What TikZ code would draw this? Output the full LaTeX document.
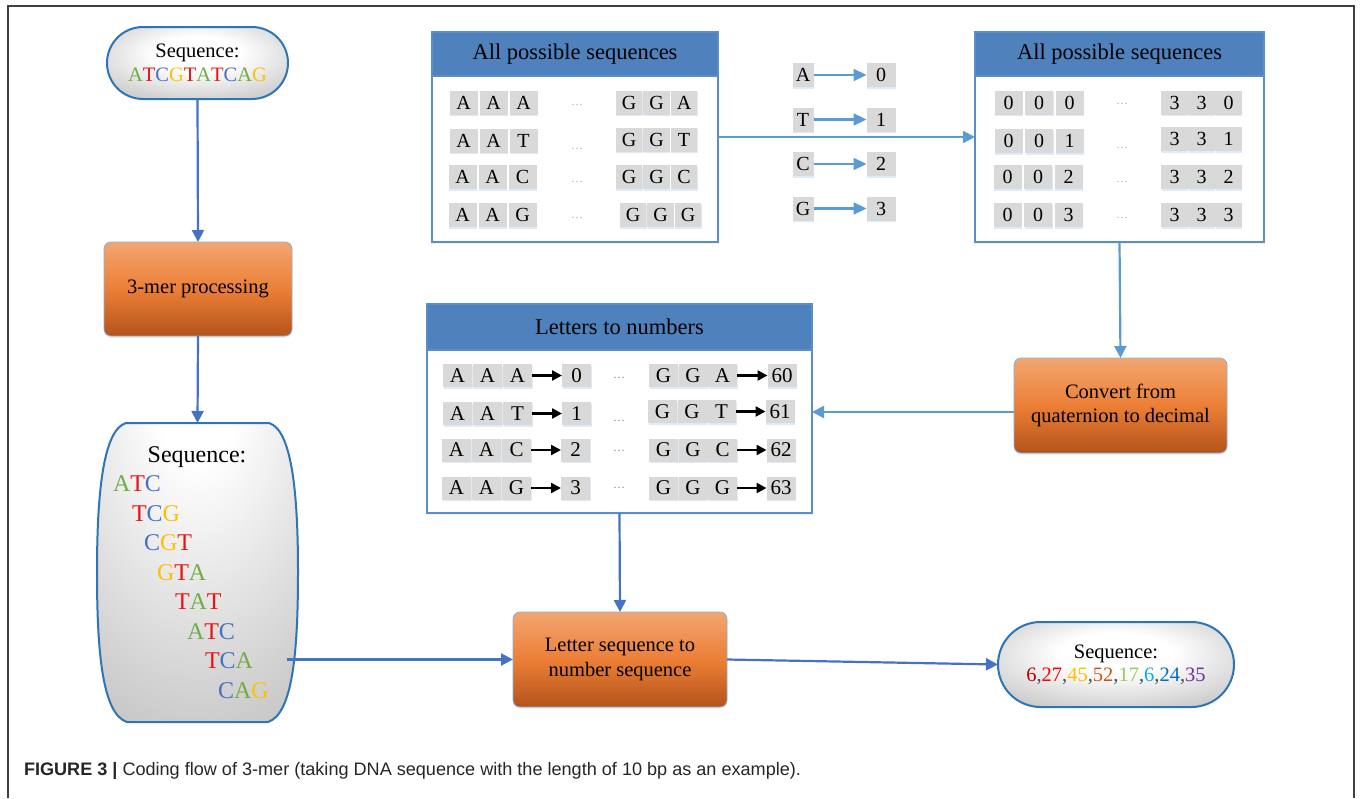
\documentclass[tikz,border=0pt]{standalone}
\usepackage{fontspec}
\usepackage{graphicx}
\setmainfont{Liberation Serif}
\newfontfamily\capfont{Liberation Sans}
\usetikzlibrary{arrows.meta,calc,shadows}

\definecolor{hdr}{HTML}{4F81BD}
\definecolor{bord}{HTML}{5B8DC8}
\definecolor{flow}{HTML}{4472C4}
\definecolor{flowl}{HTML}{5B9BD5}
\definecolor{cellg}{HTML}{D9D9D9}
\definecolor{stad}{HTML}{2E75B6}
\definecolor{orT}{HTML}{F2A672}
\definecolor{orM}{HTML}{EC7F36}
\definecolor{orB}{HTML}{B4531A}
\definecolor{ntA}{HTML}{70AD47}
\definecolor{ntT}{HTML}{EE1111}
\definecolor{ntC}{HTML}{4472C4}
\definecolor{ntG}{HTML}{FFC000}
\definecolor{nuA}{HTML}{C00000}
\definecolor{nuB}{HTML}{FF0000}
\definecolor{nuC}{HTML}{FFC000}
\definecolor{nuD}{HTML}{C55A11}
\definecolor{nuE}{HTML}{92D050}
\definecolor{nuF}{HTML}{00B0F0}
\definecolor{nuG}{HTML}{0070C0}
\definecolor{nuH}{HTML}{7030A0}

\newcommand\nucA{{\color{ntA}A}}
\newcommand\nucT{{\color{ntT}T}}
\newcommand\nucC{{\color{ntC}C}}
\newcommand\nucG{{\color{ntG}G}}
\newcommand\cm{{\color{black!70},}}

\pgfdeclareradialshading{softrad}{\pgfpoint{0bp}{8bp}}{color(0bp)=(white); color(12bp)=(white); color(48bp)=(gray!68); color(80bp)=(gray!75)}
\pgfdeclareradialshading{tallrad}{\pgfpoint{0bp}{32bp}}{color(0bp)=(white); color(10bp)=(white); color(75bp)=(gray!78); color(100bp)=(gray!85)}

\newcommand\cellrow[6]{%
  \foreach \cellsym [count=\k] in {#6} {
    \node[#5] (#1\k) at ({#2+(\k-1)*#4},#3) {\cellsym};
  }%
}

\tikzset{
  every node/.style={inner sep=0pt, outer sep=0pt},
  cellbox/.style={fill=cellg, minimum width=28pt, minimum height=24pt,
    font=\fontsize{20}{23}\selectfont,
    drop shadow={opacity=0.2, shadow xshift=0.5pt, shadow yshift=-1.5pt, fill=flowl}},
  narrowcell/.style={cellbox, minimum width=26.5pt},
  bigcell/.style={cellbox, minimum width=29pt, minimum height=23pt, font=\fontsize{21}{24}\selectfont},
  panel/.style={draw=bord, line width=1.8pt, fill=white,
    drop shadow={opacity=0.12, shadow xshift=0pt, shadow yshift=-2pt, fill=flowl}},
  header/.style={fill=hdr, draw=bord, line width=1.8pt, font=\fontsize{22.5}{26}\selectfont},
  orangebox/.style={rounded corners=7pt, draw=bord!70, line width=0.7pt,
    top color=orT, bottom color=orB, middle color=orM, align=center,
    font=\fontsize{20.5}{24.5}\selectfont,
    drop shadow={opacity=0.15, shadow xshift=0pt, shadow yshift=-2pt, fill=flowl}},
  stadium/.style={draw=stad, line width=2pt, shading=softrad, align=center,
    font=\fontsize{20.5}{24}\selectfont},
  flowarrow/.style={draw=flow, line width=2.2pt, -{Triangle[length=12pt,width=12pt]}},
  lightarrow/.style={draw=flowl, line width=2.2pt, -{Triangle[length=12pt,width=12pt]}},
  maparrow/.style={draw=flowl, line width=2.2pt, -{Triangle[length=13pt,width=12pt]}},
  blackarrow/.style={draw=black, line width=2.4pt, -{Triangle[length=10pt,width=10pt]}},
  dotsnode/.style={text=gray!65, font=\fontsize{12}{14}\selectfont},
  bluedots/.style={text=flowl!70!gray, font=\fontsize{12}{14}\selectfont},
}

\begin{document}
\begin{tikzpicture}[x=1pt,y=-1pt]
\useasboundingbox (0,0) rectangle (1360,798);
\fill[white] (0,0) rectangle (1360,798);

% outer frame
\draw[black!75, line width=1.4pt] (8,798) -- (8,6) -- (1354,6) -- (1354,798);

% ---------------- left column ----------------
\node[stadium, minimum width=181pt, minimum height=72pt, rounded corners=36pt] (top) at (197.5,63)
  {Sequence:\\\nucA\nucT\nucC\nucG\nucT\nucA\nucT\nucC\nucA\nucG};

\node[orangebox, minimum width=188pt, minimum height=94pt] (kmer) at (198,289) {3-mer processing};

\node[minimum width=201pt, minimum height=299pt] (tall) at (197.5,572.5) {};
\shadedraw[shading=tallrad, draw=stad, line width=2pt]
  (126,423) -- (269,423) .. controls (293,430) and (298,500) .. (298,572)
  .. controls (298,650) and (293,714) .. (268,722) -- (127,722)
  .. controls (102,714) and (97,650) .. (97,572)
  .. controls (97,500) and (102,430) .. (126,423) -- cycle;
\begin{scope}[every node/.append style={font=\fontsize{24}{28}\selectfont, anchor=base west}]
\node[anchor=base] (tseq) at (197,462.5) {Sequence:};
\node (k1) at (113,491.5) {\nucA\nucT\nucC};
\node (k2) at (132,521) {\nucT\nucC\nucG};
\node (k3) at (144,550.5) {\nucC\nucG\nucT};
\node (k4) at (157,580) {\nucG\nucT\nucA};
\node (k5) at (175,609.5) {\nucT\nucA\nucT};
\node (k6) at (187,639) {\nucA\nucT\nucC};
\node (k7) at (205,668.5) {\nucT\nucC\nucA};
\node (k8) at (218,698) {\nucC\nucA\nucG};
\end{scope}

% ---------------- box 1: letters ----------------
\node[panel, minimum width=286pt, minimum height=210pt] (box1) at (575,137) {};
\node[header, minimum width=286pt, minimum height=44pt, anchor=north] (box1h) at (box1.north) {All possible sequences};
\cellrow{b1a}{463.5}{102.5}{30}{cellbox}{A,A,A}
\cellrow{b1b}{463.5}{140.5}{30}{cellbox}{A,A,T}
\cellrow{b1c}{462.5}{177}{30}{cellbox}{A,A,C}
\cellrow{b1d}{462.5}{215}{30}{cellbox}{A,A,G}
\cellrow{b1e}{629}{102.5}{27.5}{narrowcell}{G,G,A}
\cellrow{b1f}{629}{139.5}{27.5}{narrowcell}{G,G,T}
\cellrow{b1g}{629}{177}{27.5}{narrowcell}{G,G,C}
\cellrow{b1h}{633}{215}{27.5}{narrowcell}{G,G,G}
\node[dotsnode] (d1a) at (577,105) {…};
\node[dotsnode] (d1b) at (577,149) {…};
\node[dotsnode] (d1c) at (577,182) {…};
\node[dotsnode] (d1d) at (577,218) {…};

% ---------------- mapping ----------------
\node[cellbox, minimum width=21pt] (mA) at (803,75) {A};
\node[cellbox, minimum width=21pt] (mT) at (803,119.5) {T};
\node[cellbox, minimum width=21pt] (mC) at (803,164) {C};
\node[cellbox, minimum width=21pt] (mG) at (803,208.5) {G};
\node[cellbox, minimum width=29pt] (m0) at (881,75) {0};
\node[cellbox, minimum width=29pt] (m1) at (881,119.5) {1};
\node[cellbox, minimum width=29pt] (m2) at (881,164) {2};
\node[cellbox, minimum width=29pt] (m3) at (881,208.5) {3};
\draw[maparrow] (mA) -- (m0);
\draw[maparrow] (mT) -- (m1);
\draw[maparrow] (mC) -- (m2);
\draw[maparrow] (mG) -- (m3);

% ---------------- box 2: digits ----------------
\node[panel, minimum width=289pt, minimum height=210pt] (box2) at (1119.5,137) {};
\node[header, minimum width=289pt, minimum height=44pt, anchor=north] (box2h) at (box2.north) {All possible sequences};
\cellrow{b2a}{1008.5}{102.5}{30.5}{cellbox}{0,0,0}
\cellrow{b2b}{1008.5}{141}{30.5}{cellbox}{0,0,1}
\cellrow{b2c}{1007.5}{177}{30.5}{cellbox}{0,0,2}
\cellrow{b2d}{1007.5}{215}{30.5}{cellbox}{0,0,3}
\cellrow{b2e}{1174.5}{102.5}{27}{narrowcell}{3,3,0}
\cellrow{b2f}{1174.5}{139}{27}{narrowcell}{3,3,1}
\cellrow{b2g}{1174.5}{177}{27}{narrowcell}{3,3,2}
\cellrow{b2h}{1174.5}{215}{27}{narrowcell}{3,3,3}
\node[dotsnode] (d2a) at (1122,104) {…};
\node[dotsnode] (d2b) at (1122,148) {…};
\node[dotsnode] (d2c) at (1122,182) {…};
\node[dotsnode] (d2d) at (1122,218) {…};

\draw[lightarrow] (box1) -- (box2);

% ---------------- convert ----------------
\node[orangebox, minimum width=213pt, minimum height=95pt] (conv) at (1120.5,405.5) {Convert from\\quaternion to decimal};
\draw[lightarrow] (box2.south) -- (conv.north);

% ---------------- box 3 ----------------
\node[panel, minimum width=385pt, minimum height=209pt] (box3) at (619.5,408.5) {};
\node[header, minimum width=385pt, minimum height=46pt, anchor=north] (box3h) at (box3.north) {Letters to numbers};
\cellrow{b3a}{457.5}{375.5}{30}{bigcell}{A,A,A}
\cellrow{b3b}{457.5}{413.5}{30}{bigcell}{A,A,T}
\cellrow{b3c}{456.5}{450}{30}{bigcell}{A,A,C}
\cellrow{b3d}{456.5}{488}{30}{bigcell}{A,A,G}
\node[bigcell] (n3a) at (576.5,375.5) {0};
\node[bigcell] (n3b) at (576.5,413.5) {1};
\node[bigcell] (n3c) at (575.5,450) {2};
\node[bigcell] (n3d) at (575.5,488) {3};
\cellrow{b3e}{663.5}{375.5}{29.5}{bigcell}{G,G,A}
\cellrow{b3f}{662.5}{411.5}{29.5}{bigcell}{G,G,T}
\cellrow{b3g}{663.5}{450}{29.5}{bigcell}{G,G,C}
\cellrow{b3h}{663.5}{488}{29.5}{bigcell}{G,G,G}
\node[bigcell] (n3e) at (782,375.5) {60};
\node[bigcell] (n3f) at (780,411.5) {61};
\node[bigcell] (n3g) at (781,450) {62};
\node[bigcell] (n3h) at (781,488) {63};
\foreach \r in {a,b,c,d,e,f,g,h} { \draw[blackarrow] (b3\r3) -- (n3\r); }
\node[bluedots] (d3a) at (619,378) {…};
\node[bluedots] (d3b) at (619,421) {…};
\node[bluedots] (d3c) at (619,451) {…};
\node[bluedots] (d3d) at (619,488) {…};

\draw[lightarrow] ([yshift=-6.5pt]conv.west) -- ([yshift=-6.5pt]conv.west -| box3.east);

% ---------------- bottom ----------------
\node[orangebox, minimum width=214pt, minimum height=95pt] (lseq) at (620,659.5) {Letter sequence to\\number sequence};
\draw[flowarrow] (box3.south) -- (lseq.north);

\node[stadium, minimum width=236pt, minimum height=85pt, rounded corners=42.5pt] (final) at (1116,664.5)
  {Sequence:\\[-1pt]{\color{nuA}6}\cm{\color{nuB}27}\cm{\color{nuC}45}\cm{\color{nuD}52}\cm{\color{nuE}17}\cm{\color{nuF}6}\cm{\color{nuG}24}\cm{\color{nuH}35}};

\draw[flowarrow] (top.south) -- (kmer.north);
\draw[flowarrow] (kmer.south) -- (tall.north);
\draw[flowarrow] ($(tall.east |- lseq.west)+(-11,0)$) -- (lseq.west);
\draw[flowarrow] (lseq.east) -- (final.west);

% caption
\node[anchor=base west] (cap) at (24,775)
  {\resizebox{777pt}{!}{\capfont\fontsize{16}{19}\selectfont\color{black!85}\textbf{FIGURE 3 |} Coding flow of 3-mer (taking DNA sequence with the length of 10 bp as an example).}};
\end{tikzpicture}
\end{document}
